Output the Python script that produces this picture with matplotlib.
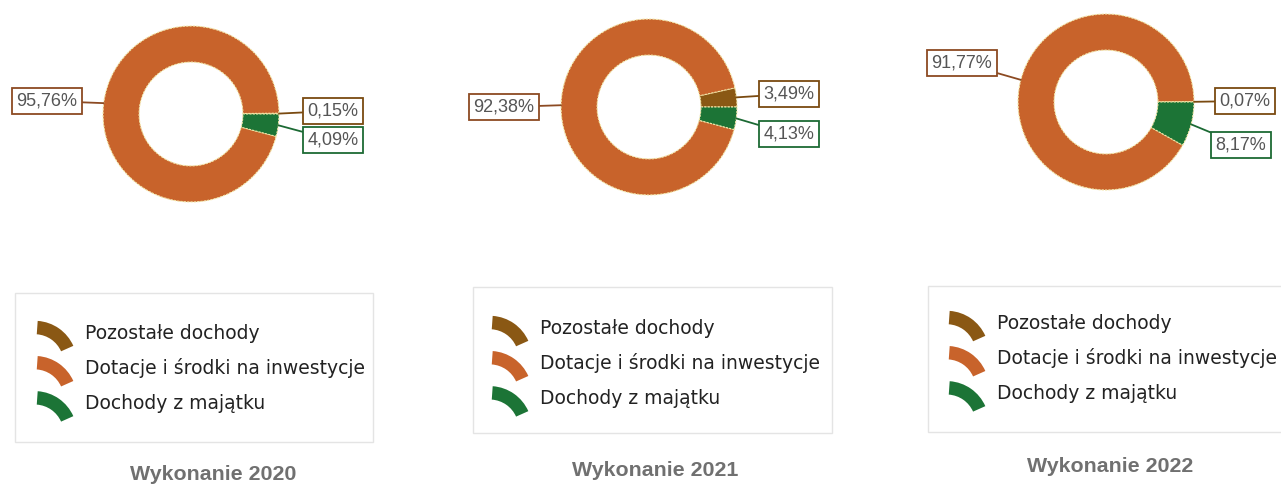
import numpy as np
import matplotlib
matplotlib.use('Agg')
import matplotlib.pyplot as plt
from matplotlib.patches import Patch, Wedge, Rectangle
from matplotlib.legend_handler import HandlerPatch

years = ['2020', '2021', '2022']
categories = ['Pozostałe dochody', 'Dotacje i środki na inwestycje', 'Dochody z majątku']
pozostale = [0.15, 3.49, 0.07]
dotacje = [95.76, 92.38, 91.77]
majatek = [4.09, 4.13, 8.17]

colors = ['#8a5814', '#c8632b', '#1c7436']
edge_colors = ['#7a4a10', '#8c4a22', '#1c6a34']

# layout in pixel units (y measured from top)
W, H = 1281, 491
centers = [(191, 114), (649, 107), (1106, 102)]
radius = 88
label_pos = [
    [(333, 111), (47, 101), (333, 140)],
    [(789, 94), (504, 107), (789, 134)],
    [(1245, 101), (962, 63), (1241, 145)],
]
# legend frame boxes (x0, y0, x1, y1) and text start / first row centre
legend_box = [(15, 293, 373, 442), (473, 287, 832, 433), (928, 286, 1300, 432)]
legend_text = [(85, 335), (540, 330), (997, 325)]
title_pos = [(213, 475), (655, 470), (1110, 466)]

fs_leg = 13.5
px = fs_leg * 100 / 72


class HandlerArc(HandlerPatch):
    def create_artists(self, legend, orig_handle, xdescent, ydescent,
                       width, height, fontsize, trans):
        x0, y0 = -xdescent, -ydescent
        w = Wedge((x0 - 0.02 * width, y0 - 0.9 * height), 1.95 * height,
                  24, 86, width=0.62 * height,
                  facecolor=orig_handle.get_facecolor(), edgecolor='none',
                  transform=trans)
        return [w]


def fmt(v):
    return f'{v:.2f}'.replace('.', ',') + '%'


fig = plt.figure(figsize=(W / 100, H / 100), dpi=100)
ax = fig.add_axes([0, 0, 1, 1])
ax.set_xlim(0, W)
ax.set_ylim(0, H)
ax.set_aspect('equal')
ax.axis('off')

handles = [Patch(facecolor=c) for c in colors]

for i, yr in enumerate(years):
    vals = [pozostale[i], dotacje[i], majatek[i]]
    cx, cy = centers[i]
    wedges, _ = ax.pie(vals, colors=colors, startangle=0, counterclock=True,
                       center=(cx, H - cy), radius=radius,
                       wedgeprops=dict(width=radius * 0.41, edgecolor='#f3e6a8',
                                       linewidth=0.8, linestyle=(0, (2, 1))),
                       frame=True)
    for j, w in enumerate(wedges):
        ang = np.deg2rad((w.theta1 + w.theta2) / 2)
        xy = (cx + radius * np.cos(ang), H - cy + radius * np.sin(ang))
        lx, ly = label_pos[i][j]
        ax.annotate(fmt(vals[j]), xy=xy, xytext=(lx, H - ly),
                    ha='center', va='center', fontsize=13,
                    family='Liberation Sans', color='#555555',
                    bbox=dict(boxstyle='square,pad=0.25', facecolor='white',
                              edgecolor=edge_colors[j], linewidth=1.3),
                    arrowprops=dict(arrowstyle='-', color=edge_colors[j],
                                    linewidth=1.3, shrinkA=0, shrinkB=0),
                    annotation_clip=False)

    # legend frame
    bx0, by0, bx1, by1 = legend_box[i]
    ax.add_patch(Rectangle((bx0, H - by1), bx1 - bx0, by1 - by0,
                           facecolor='white', edgecolor='#e4e4e4',
                           linewidth=1.0, zorder=1))

    tx0, ty0 = legend_text[i]
    hl, htp, hh = 2.0, 0.64, 1.4
    ax_x = tx0 - (hl + htp) * px
    ax_y = ty0 - hh * px / 2
    leg = ax.legend(handles, categories, loc='upper left',
                    bbox_to_anchor=(ax_x, H - ax_y), bbox_transform=ax.transData,
                    handler_map={Patch: HandlerArc()},
                    prop={'family': 'DejaVu Sans', 'size': fs_leg},
                    labelcolor='#222222', frameon=False,
                    borderpad=0, handlelength=hl, handleheight=hh,
                    handletextpad=htp, labelspacing=0.72, borderaxespad=0)
    leg.set_zorder(3)
    ax.add_artist(leg)

    tx, ty = title_pos[i]
    ax.text(tx, H - ty, 'Wykonanie ' + yr, ha='center', va='center',
            fontsize=15.4, fontweight='bold', family='Liberation Sans',
            color='#707070')

# every legend was added as an artist already
ax.legend_ = None
ax.set_xlim(0, W)
ax.set_ylim(0, H)
fig.savefig('out.png', dpi=100, facecolor='white')
